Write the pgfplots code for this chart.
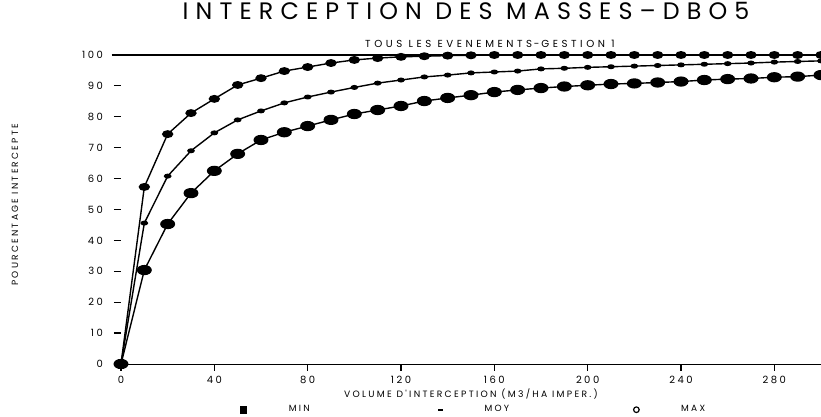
\documentclass[border=0pt]{standalone}
\usepackage{fontspec}
\setmainfont{Poppins}
\newfontfamily\titlefont[LetterSpace=30]{Poppins}
\newfontfamily\smallfont[LetterSpace=25]{Poppins}
\newfontfamily\subfont[LetterSpace=35]{Poppins}
\usepackage{pgfplots}
\pgfplotsset{compat=1.18}
\begin{document}
\begin{tikzpicture}
\useasboundingbox (-60.5pt,-26.5pt) rectangle (350pt,182pt);
\begin{axis}[
  scale only axis,
  width=350pt, height=154.5pt,
  xmin=0, xmax=300, ymin=0, ymax=100,
  clip=false,
  axis x line*=bottom,
  axis y line*=left,
  y axis line style={draw=none},
  xtick={0,40,80,120,160,200,240,280},
  ytick={0,10,20,30,40,50,60,70,80,90,100},
  tick style={black, line width=0.6pt},
  major tick length=3.5pt,
  tick align=outside,
  every tick label/.append style={font=\smallfont\fontsize{5}{6}\selectfont},
  yticklabel style={xshift=-2pt},
  xticklabel style={yshift=0.8pt},
  /pgf/number format/assume math mode=true,
  legend style={draw=none, fill=none, at={(0.17,-0.148)}, anchor=west,
    font=\smallfont\fontsize{4.5}{5}\selectfont, legend columns=3,
    /tikz/every odd column/.append style={column sep=19pt},
    /tikz/every even column/.append style={column sep=52.5pt},
    nodes={text width=20pt, align=left},
    inner sep=0pt},
  legend cell align=left,
]
\pgfplotstableread{
x MIN MOY MAX
0 0 0 0
10 30.4 45.6 57.3
20 45.3 60.8 74.4
30 55.3 69.0 81.2
40 62.5 74.8 85.8
50 68.0 79.0 90.3
60 72.5 81.9 92.5
70 75.0 84.5 94.8
80 77.0 86.4 96.1
90 79.0 88.0 97.4
100 80.9 89.5 98.4
110 82.2 90.9 99.0
120 83.5 91.9 99.4
130 85.1 92.9 99.6
140 86.1 93.5 99.8
150 87.0 94.2 99.9
160 88.0 94.5 100
170 88.7 94.8 100
180 89.3 95.5 100
190 89.8 95.7 100
200 90.2 96.0 100
210 90.6 96.2 100
220 90.8 96.4 100
230 91.1 96.6 100
240 91.4 96.8 100
250 91.9 97.0 100
260 92.2 97.2 100
270 92.4 97.4 100
280 92.8 97.7 100
290 93.0 97.9 100
300 93.5 98.1 100
}\datatable
\addlegendimage{only marks, mark=square*, mark size=1.6pt, black}
\addlegendentry{MIN}
\addlegendimage{only marks, mark=-, mark size=1.2pt, black, line width=0.9pt}
\addlegendentry{MOY}
\addlegendimage{only marks, mark=o, mark size=1.4pt, black, line width=0.6pt}
\addlegendentry{MAX}
\addplot[black, line width=0.7pt, mark=*, mark size=2.6pt, mark options={xscale=1.3, yscale=0.85}, forget plot] table[x=x,y=MIN] {\datatable};
\addplot[black, line width=0.7pt, mark=*, mark size=1.1pt, mark options={xscale=1.4, yscale=0.8}, forget plot] table[x=x,y=MOY] {\datatable};
\addplot[black, line width=0.7pt, mark=*, mark size=1.9pt, mark options={xscale=1.3, yscale=0.85}, forget plot] table[x=x,y=MAX] {\datatable};
\draw[black, line width=0.8pt] (axis cs:-4,100) -- (axis cs:300,100);
\node[font=\titlefont\fontsize{11.9}{13}\selectfont, anchor=base] at ([yshift=17.5pt]rel axis cs:0.493,1) {INTERCEPTION DES MASSES–DBO5};
\node[font=\subfont\fontsize{5.1}{6}\selectfont, anchor=base] at ([yshift=3.6pt]rel axis cs:0.527,1) {TOUS LES EVENEMENTS\,-\,GESTION 1};
\node[font=\smallfont\fontsize{4.6}{5}\selectfont, anchor=base] at ([yshift=-16.8pt]rel axis cs:0.5,0) {VOLUME D'INTERCEPTION (M3/HA IMPER.)};
\node[font=\smallfont\fontsize{4.5}{5}\selectfont, rotate=90, anchor=center] at ([xshift=-53pt]rel axis cs:0,0.515) {POURCENTAGE INTERCEPTE};
\end{axis}
\end{tikzpicture}
\end{document}
